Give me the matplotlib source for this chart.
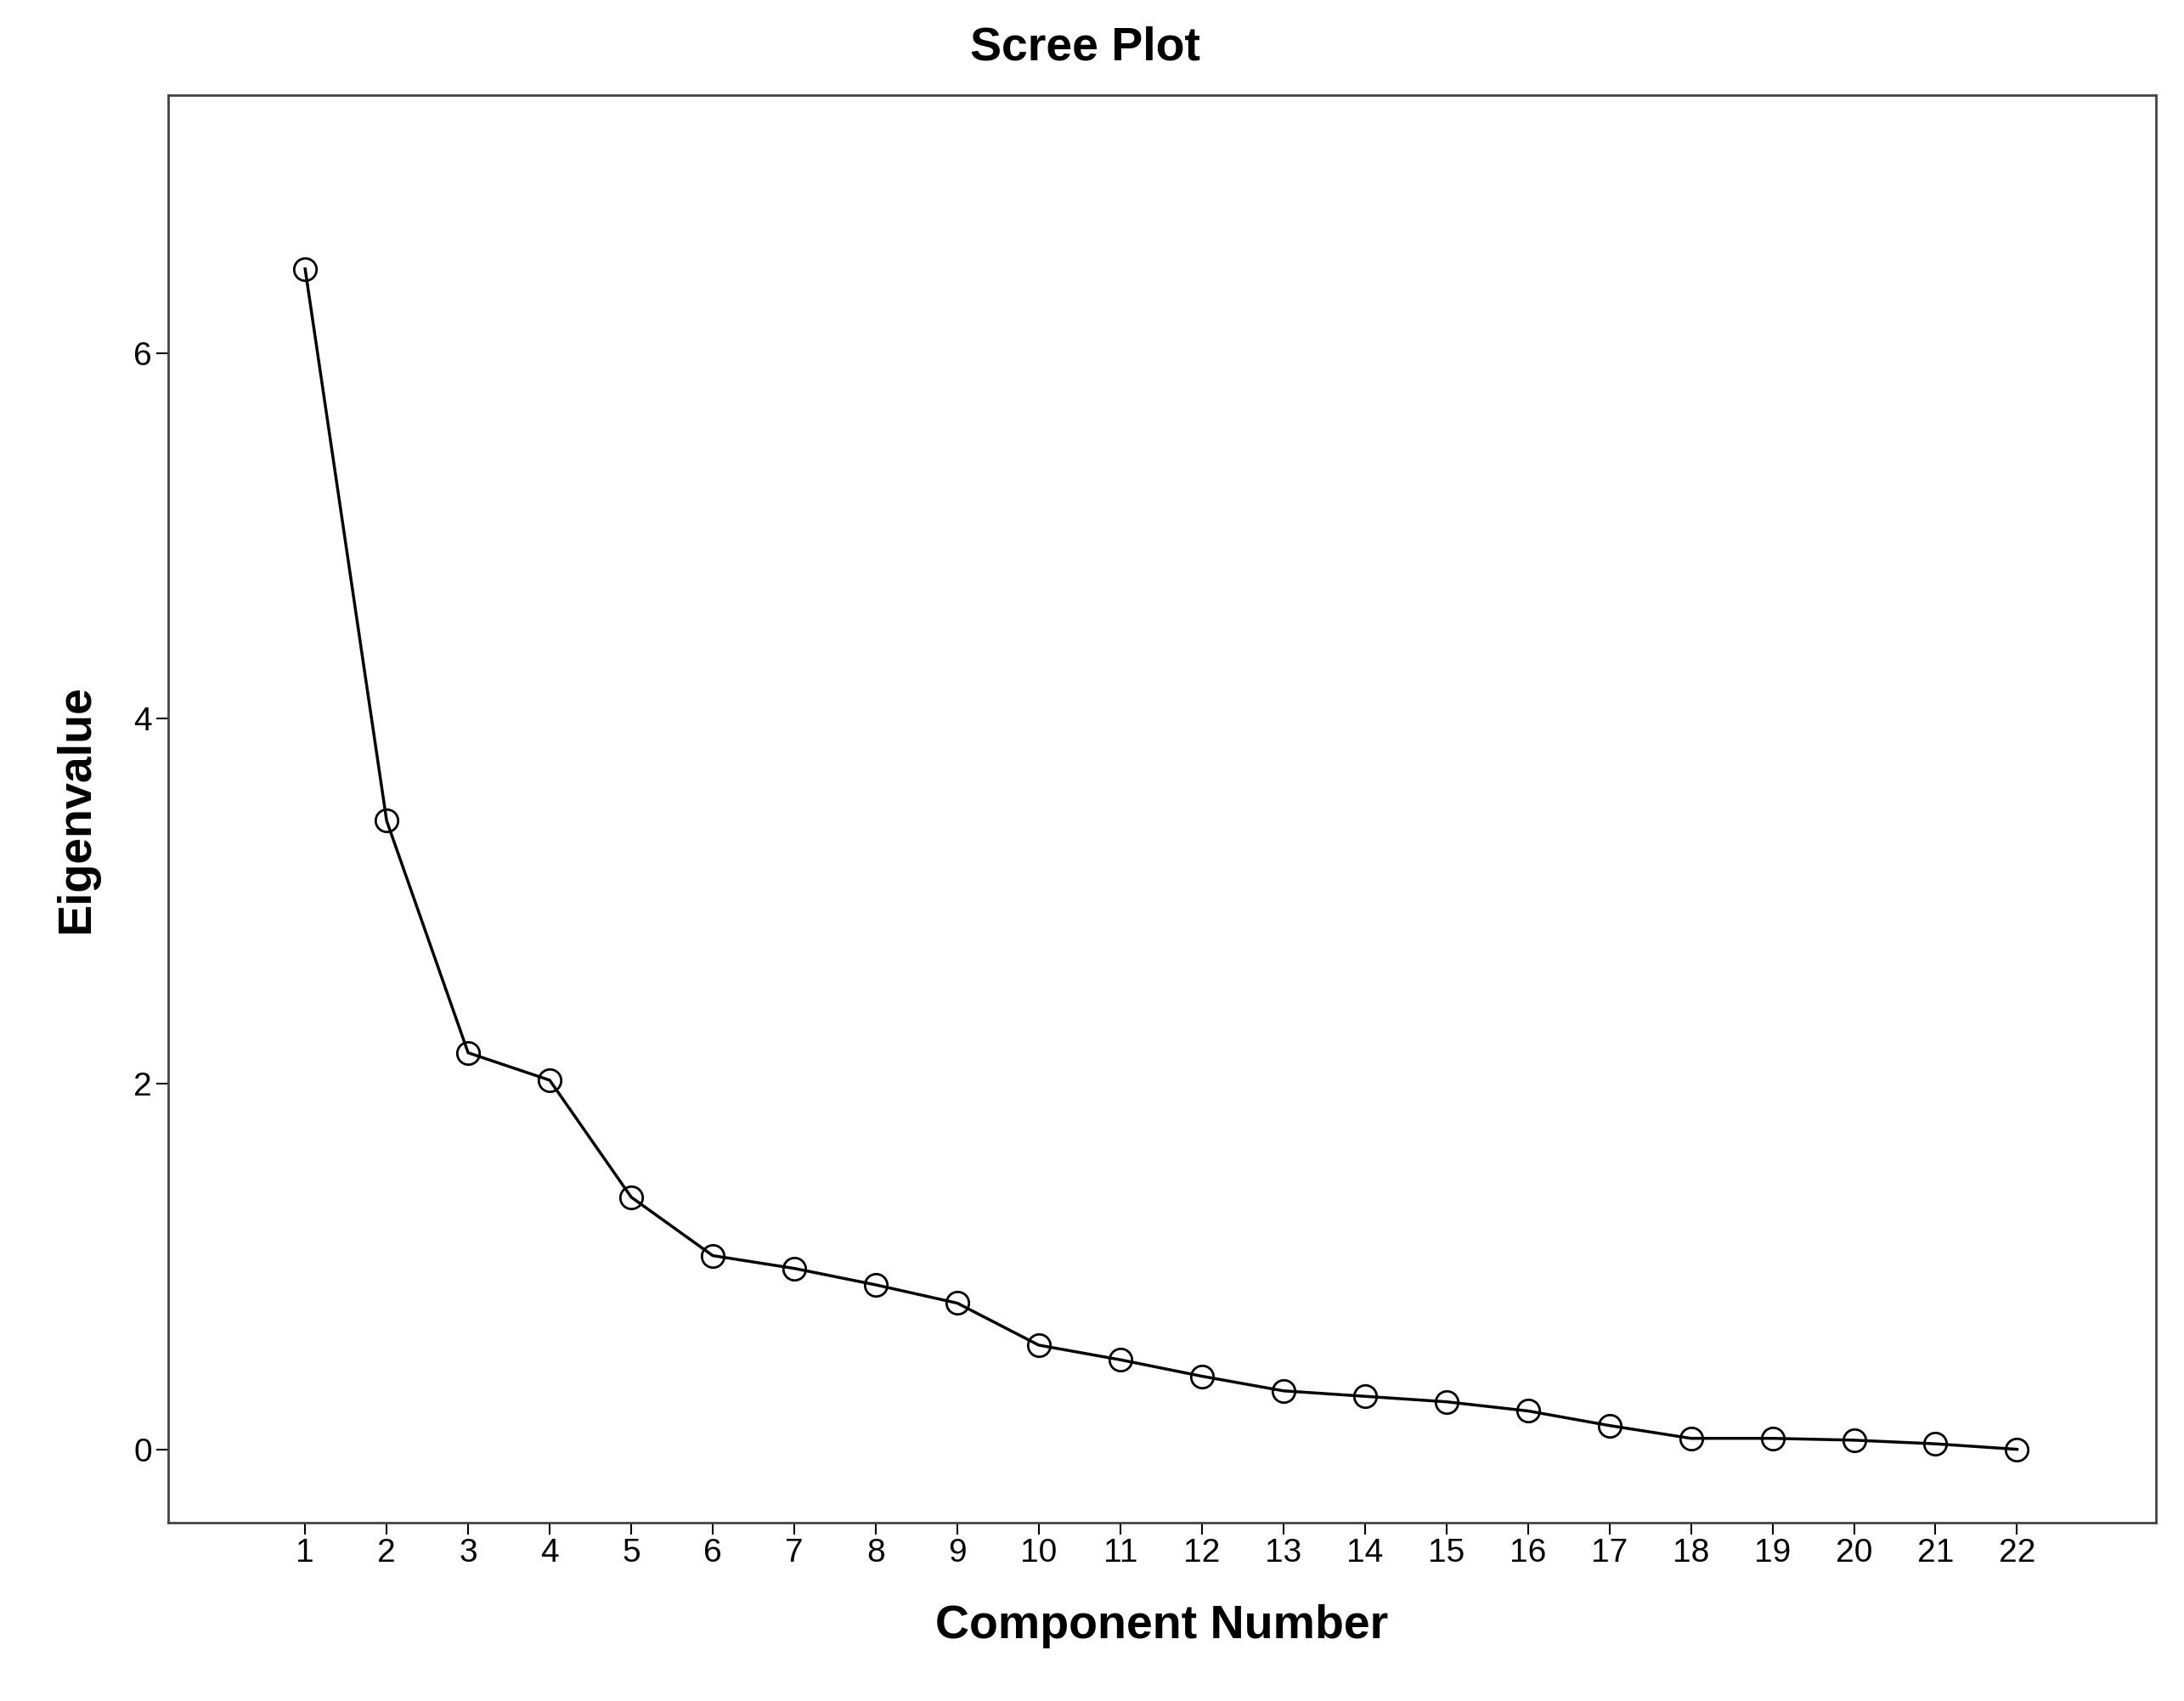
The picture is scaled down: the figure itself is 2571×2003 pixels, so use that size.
import matplotlib
matplotlib.use("Agg")
import matplotlib.pyplot as plt

plt.rcParams['font.family'] = ['Liberation Sans', 'DejaVu Sans']

components = list(range(1, 23))
eigenvalues = [6.46, 3.44, 2.17, 2.02, 1.38, 1.06, 0.99, 0.90, 0.80, 0.57, 0.49,
               0.40, 0.32, 0.29, 0.26, 0.21, 0.13, 0.06, 0.06, 0.05, 0.03, 0.00]

fig = plt.figure(figsize=(25.71, 20.03), dpi=100)
ax = fig.add_axes([0.077, 0.105, 0.91, 0.839])
ax.plot(components, eigenvalues, color='black', linewidth=2.5, marker='o',
        markersize=19, markerfacecolor='none', markeredgecolor='black', markeredgewidth=2)
ax.set_xlim(-0.68, 23.7)
ax.set_ylim(-0.40, 7.41)
ax.set_xticks(components)
ax.set_yticks([0, 2, 4, 6])
ax.tick_params(labelsize=28, length=10, width=1.5)
for s in ax.spines.values():
    s.set_linewidth(2)
    s.set_color('#444444')
fig.text(0.497, 0.972, "Scree Plot", fontsize=40, fontweight='bold', ha='center', va='center')
ax.set_xlabel("Component Number", fontsize=40, fontweight='bold', labelpad=30)
ax.set_ylabel("Eigenvalue", fontsize=40, fontweight='bold', labelpad=30)
fig.savefig("out.png", dpi=100)
